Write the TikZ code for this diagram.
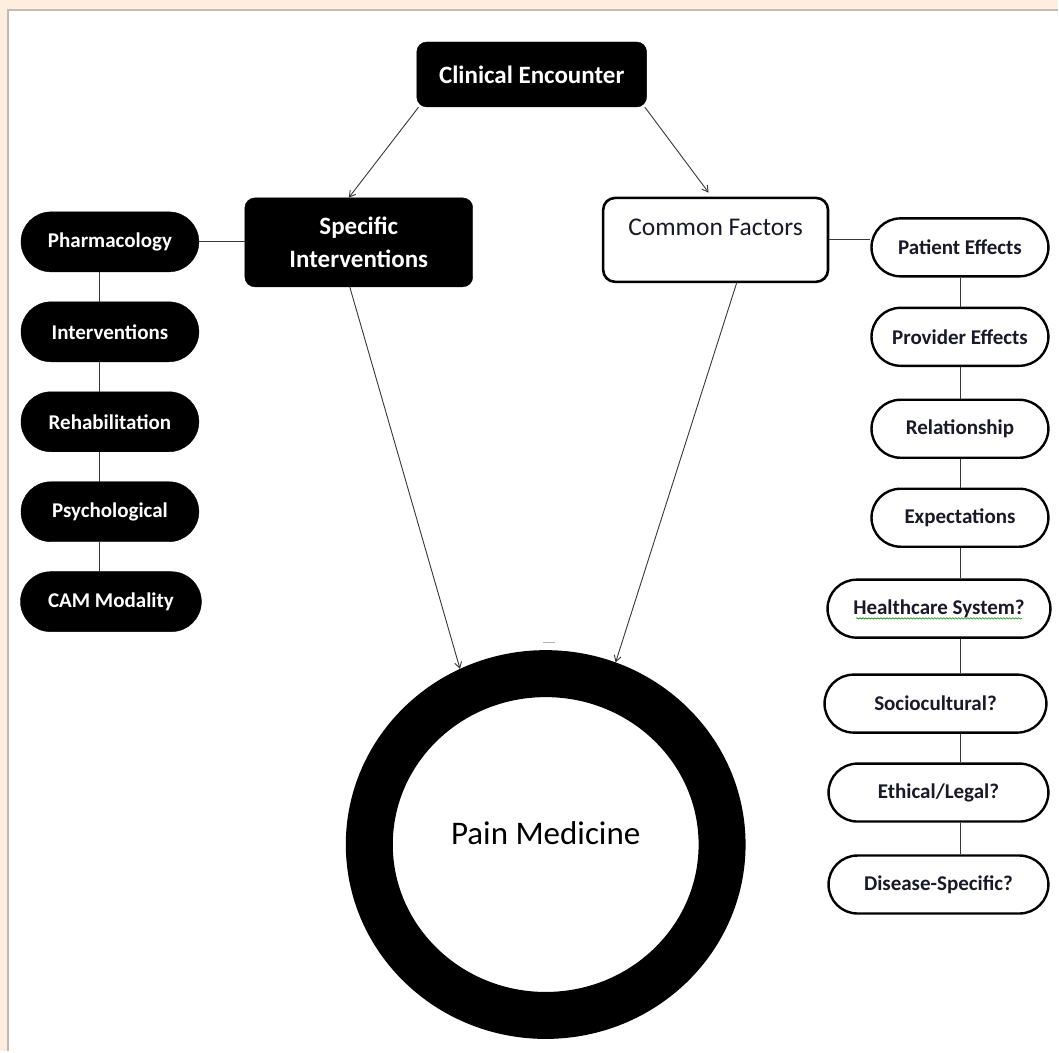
\documentclass[tikz,border=0pt]{standalone}
\usepackage{fontspec}
\setmainfont{Carlito}
\usetikzlibrary{arrows.meta,shapes.geometric,decorations.pathmorphing}
\definecolor{peach}{RGB}{253,238,224}
\definecolor{frameline}{RGB}{196,186,176}
\definecolor{wire}{RGB}{55,55,55}
\definecolor{ink}{RGB}{25,25,40}

\begin{document}
\begin{tikzpicture}[x=1pt,y=-1pt]
\tikzstyle{every node}=[inner sep=0pt, align=center];
\tikzstyle{darkbox}=[draw=black, fill=black, text=white, rounded corners=10pt, font=\bfseries\fontsize{25}{33}\selectfont];
\tikzstyle{darkpill}=[draw=black, fill=black, text=white, rounded corners=30pt, minimum width=178pt, minimum height=60pt, font=\bfseries\fontsize{21}{25}\selectfont];
\tikzstyle{lightpill}=[draw=black, fill=white, text=ink, line width=2.4pt, rounded corners=29pt, minimum height=58pt, font=\bfseries\fontsize{21}{25}\selectfont];
\tikzstyle{link}=[draw=wire, line width=1pt];
\tikzstyle{arrow}=[draw=wire, line width=0.9pt, -{Straight Barb[length=6pt,width=7pt]}];

% page
\fill[peach] (0,0) rectangle (1059,1052);
\fill[white] (8,10) rectangle (1059,1052);
\draw[frameline, line width=1.2pt] (8,1052) -- (8,10) -- (1059,10);

\draw (532,74.5) node[darkbox, minimum width=230pt, minimum height=65pt] (top) {Clinical Encounter};
\draw (359,242.5) node[darkbox, minimum width=228pt, minimum height=89pt] (si) {Specific\\Interventions};
\draw (716,240) node[draw=black, line width=2.6pt, rounded corners=12pt, minimum width=225pt, minimum height=84pt, text=ink, font=\fontsize{25.5}{25}\selectfont] (cf) {Common Factors\\\mbox{}};

\draw (110,242) node[darkpill] (l1) {Pharmacology};
\draw (110,332) node[darkpill] (l2) {Interventions};
\draw (110,422) node[darkpill] (l3) {Rehabilitation};
\draw (110,512) node[darkpill] (l4) {Psychological};
\draw (111,602) node[darkpill, minimum width=181pt] (l5) {CAM Modality};

\draw (960.5,247.5) node[lightpill, minimum width=177pt] (r1) {Patient Effects};
\draw (960.5,337) node[lightpill, minimum width=177pt] (r2) {Provider Effects};
\draw (960.5,429) node[lightpill, minimum width=177pt] (r3) {Relationship};
\draw (960.5,518) node[lightpill, minimum width=177pt] (r4) {Expectations};
\draw (939.5,609) node[lightpill, minimum width=223pt] (r5) {Healthcare System?};
\draw (936,704) node[lightpill, minimum width=222pt] (r6) {Sociocultural?};
\draw (939,793) node[lightpill, minimum width=220pt] (r7) {Ethical/Legal?};
\draw (939,885) node[lightpill, minimum width=220pt] (r8) {Disease-Specific?};

\draw (546,845) node[ellipse, draw=black, line width=47pt, minimum width=353pt, minimum height=342pt, font=\fontsize{33}{35}\selectfont] (pm) {\smash{Pain Medicine}};

\coordinate (lspine) at (100,0);
\coordinate (rspine) at (961,0);

\draw[arrow] ([xshift=2pt]top.south west) -- ([xshift=-10pt]si.north);
\draw[arrow, shorten >=5pt] ([xshift=-2pt]top.south east) -- ([xshift=-4pt]cf.north);
\draw[arrow] ([xshift=-9pt]si.south) -- (pm.116);
\draw[arrow] ([xshift=21pt]cf.south) -- (pm.69);

\draw[link] (l1.east) -- (l1.east -| si.west);
\draw[link] (cf.east) -- (cf.east -| r1.west);

\draw[link] (l1.south -| lspine) -- (l2.north -| lspine);
\draw[link] (l2.south -| lspine) -- (l3.north -| lspine);
\draw[link] (l3.south -| lspine) -- (l4.north -| lspine);
\draw[link] (l4.south -| lspine) -- (l5.north -| lspine);

\draw[link] (r1.south -| rspine) -- (r2.north -| rspine);
\draw[link] (r2.south -| rspine) -- (r3.north -| rspine);
\draw[link] (r3.south -| rspine) -- (r4.north -| rspine);
\draw[link] (r4.south -| rspine) -- (r5.north -| rspine);
\draw[link] (r5.south -| rspine) -- (r6.north -| rspine);
\draw[link] (r6.south -| rspine) -- (r7.north -| rspine);
\draw[link] (r7.south -| rspine) -- (r8.north -| rspine);

% spell-check squiggle and stray mark
\draw[green!55!black, line width=0.6pt, decorate, decoration={snake, amplitude=0.7pt, segment length=3pt}] ([xshift=-83pt,yshift=-4pt]r5.base) -- ([xshift=83pt,yshift=-4pt]r5.base);
\draw[gray!60, line width=1.2pt] (543,643) -- (555,643);
\end{tikzpicture}
\end{document}
